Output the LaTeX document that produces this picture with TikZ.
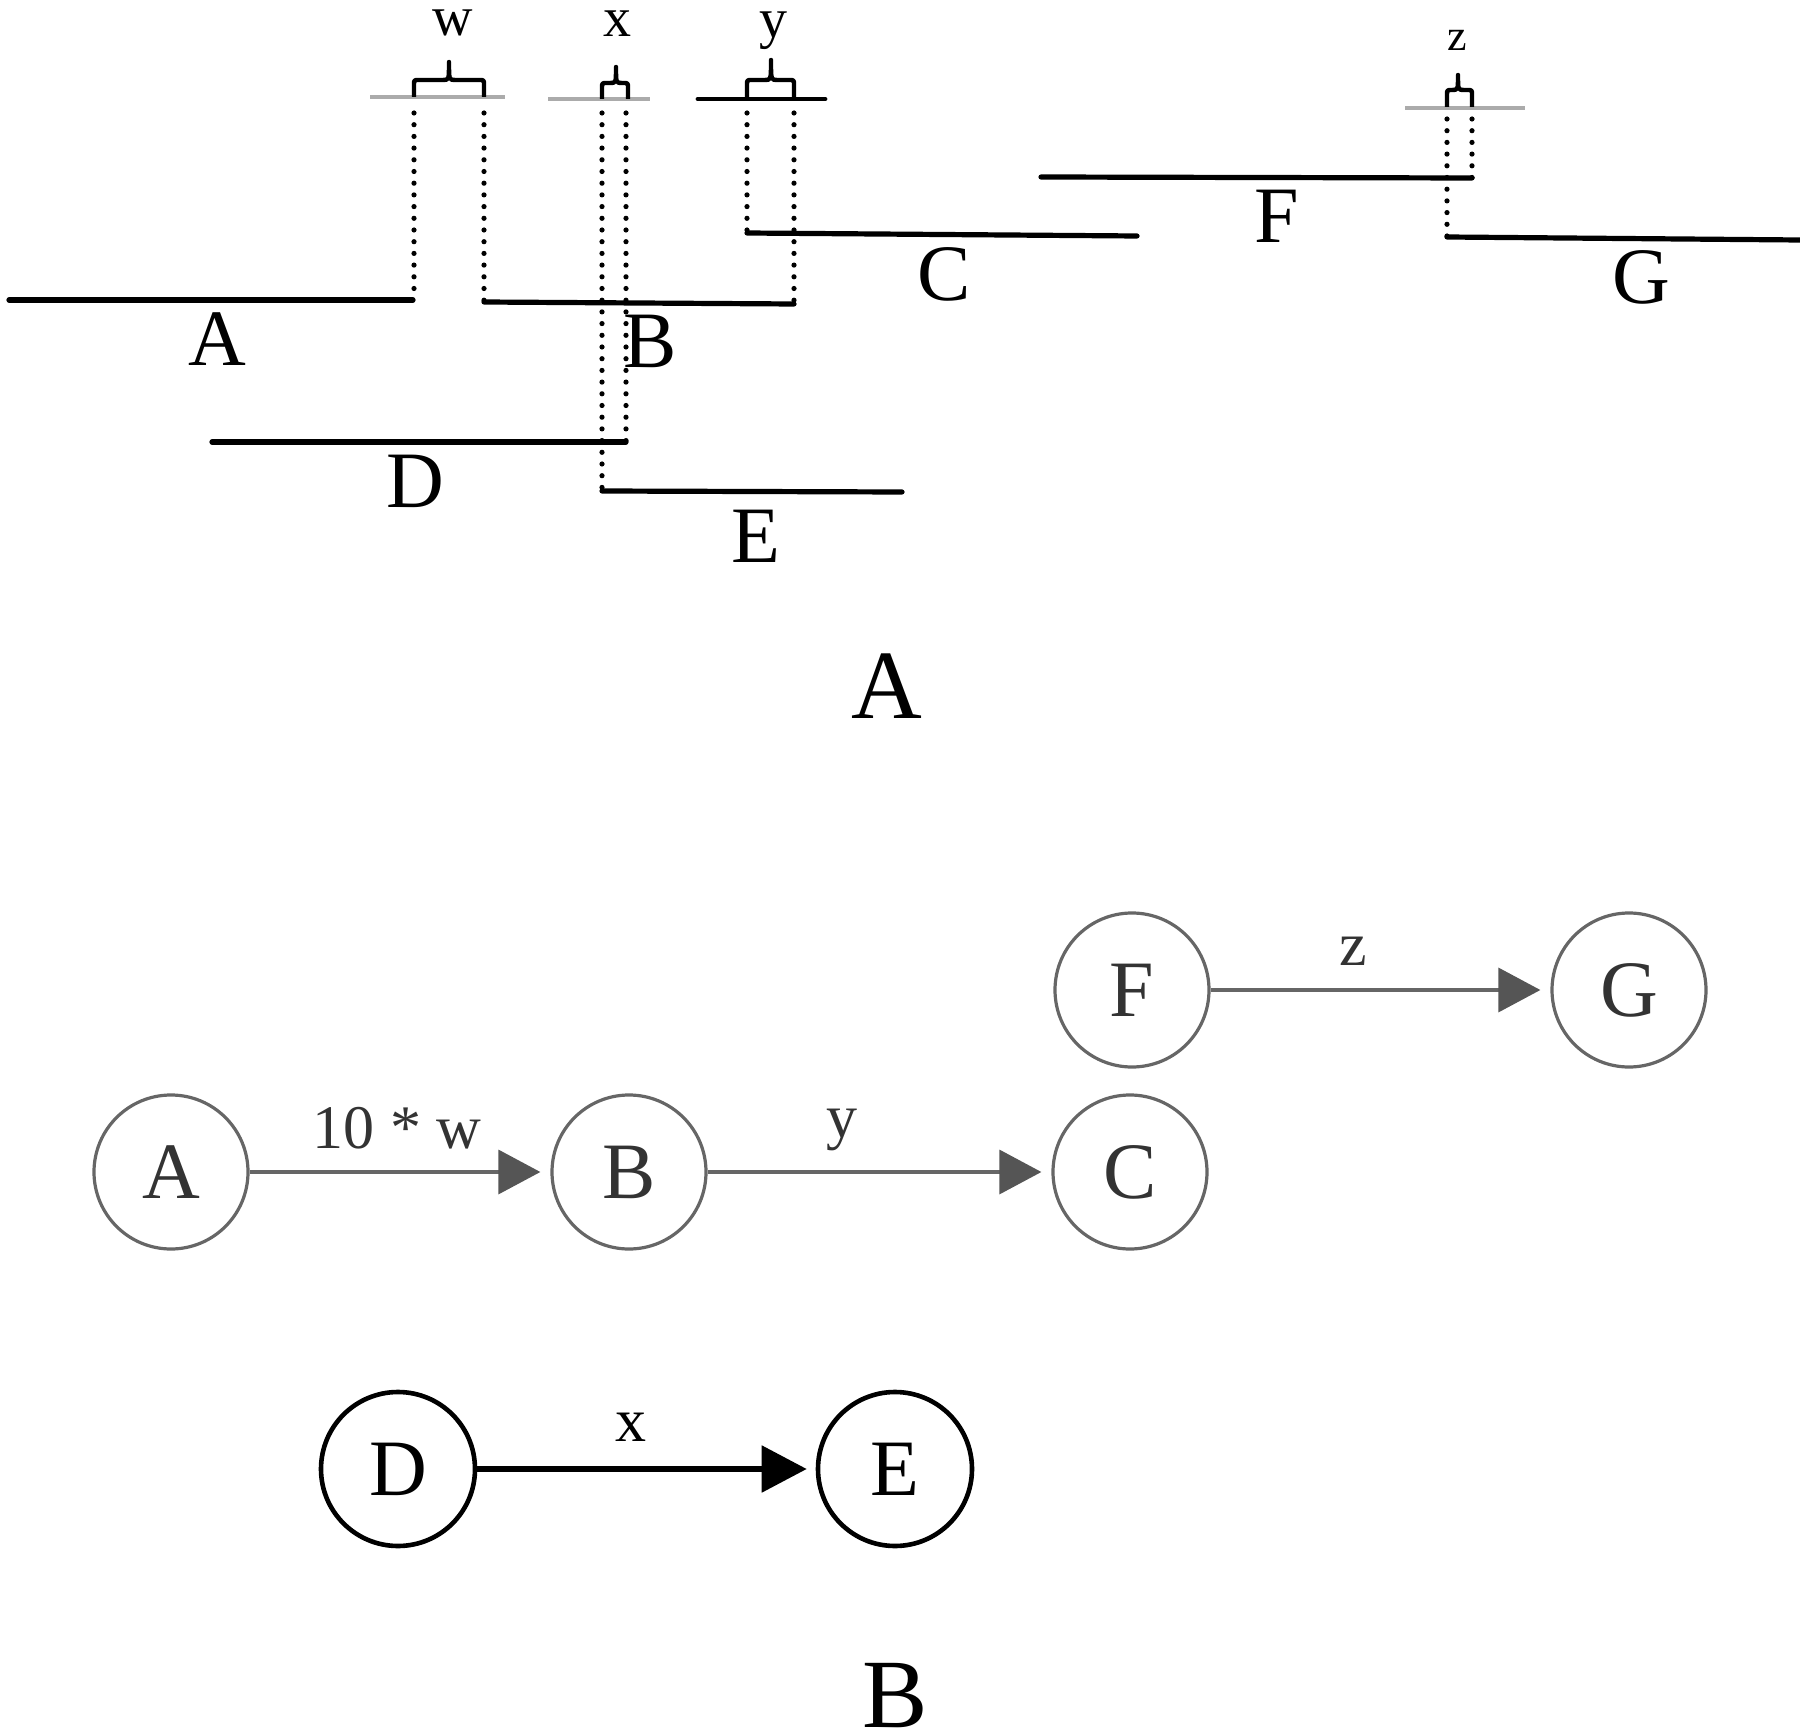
\documentclass[tikz,border=0pt]{standalone}
\usepackage{fontspec}
\setmainfont{Liberation Serif}
\usetikzlibrary{arrows.meta}
\definecolor{gline}{HTML}{666666}
\definecolor{gtext}{HTML}{333333}
\definecolor{gref}{HTML}{ABABAB}
\definecolor{ghead}{HTML}{555555}
\newcommand\mybrace[6]{\draw[brc] (#1,#4) -- (#1,#5+5) .. controls (#1,#5) .. (#1+5,#5) -- (#3-6,#5) .. controls (#3,#5) .. (#3,#6) .. controls (#3,#5) .. (#3+6,#5) -- (#2-5,#5) .. controls (#2,#5) .. (#2,#5+5) -- (#2,#4);}
\begin{document}
\begin{tikzpicture}[x=0.5pt,y=-0.5pt,
  seg/.style={line width=2.6pt, line cap=round},
  dots/.style={line width=2.6pt, line cap=round, dash pattern=on 0pt off 5.85pt},
  refg/.style={gref, line width=2pt},
  refb/.style={black, line width=2.4pt, line cap=round},
  brc/.style={line width=2.2pt, line join=round},
  biglab/.style={font=\fontsize{40}{40}\selectfont, inner sep=0pt, anchor=base},
  caplab/.style={font=\fontsize{49}{49}\selectfont, inner sep=0pt, anchor=base},
  smalllab/.style={font=\fontsize{28}{28}\selectfont, inner sep=0pt, anchor=base},
  gc/.style={circle, draw=gline, line width=1.6pt, minimum size=77pt, inner sep=0pt, text=gtext, font=\fontsize{40}{40}\selectfont},
  bc/.style={circle, draw=black, line width=2.3pt, minimum size=77pt, inner sep=0pt, font=\fontsize{40}{40}\selectfont},
  garrow/.style={gline, line width=1.7pt, -{Triangle[length=21pt,width=22pt,fill=ghead,color=ghead]}, shorten >=5pt},
  barrow/.style={black, line width=2.7pt, -{Triangle[length=22.5pt,width=23pt]}, shorten >=4.5pt},
  elab/.style={font=\fontsize{31}{31}\selectfont, text=gtext, inner sep=0pt, anchor=base}
  ]
\useasboundingbox (0,0) rectangle (1800,1733);

% ---------- part A: time lines ----------
\draw[seg] (9,300) -- (413,300);
\draw[seg] (484,302) -- (794,304);
\draw[seg] (747,233) -- (1137,236);
\draw[seg] (212,442) -- (626,442);
\draw[seg] (602,491) -- (902,492);
\draw[seg] (1041,177) -- (1472,178);
\draw[seg] (1447,237) -- (1800,240);

% reference lines at top
\draw[refg] (370,97) -- (505,97);
\draw[refg] (548,99) -- (650,99);
\draw[refb] (698,99) -- (825,99);
\draw[refg] (1405,108) -- (1525,108);

% braces
\mybrace{414}{484}{449}{97}{80}{62}
\mybrace{602}{628}{616}{99}{83}{67}
\mybrace{747}{794}{771}{99}{80}{60}
\mybrace{1447}{1472}{1458}{107}{90}{75}

% dotted drop lines
\draw[dots] (414,113) -- (414,300);
\draw[dots] (484,113) -- (484,302);
\draw[dots] (602,113) -- (602,491);
\draw[dots] (626,113) -- (626,442);
\draw[dots] (747,113) -- (747,233);
\draw[dots] (794,113) -- (794,304);
\draw[dots] (1447,119) -- (1447,237);
\draw[dots] (1472,119) -- (1472,178);

% small labels
\node[smalllab] (lw) at (453,36) {w};
\node[smalllab] (lx) at (617,37) {x};
\node[smalllab] (ly) at (773,38) {y};
\node[smalllab, font=\fontsize{22}{22}\selectfont] (lz) at (1457,51) {z};

% segment labels
\node[biglab] (tA) at (217,366) {A};
\node[biglab] (tB) at (650,368) {B};
\node[biglab] (tC) at (944,301) {C};
\node[biglab] (tD) at (415,508) {D};
\node[biglab] (tE) at (756,563) {E};
\node[biglab] (tF) at (1277,243) {F};
\node[biglab] (tG) at (1641,304) {G};

\node[caplab] (capA) at (887,718) {A};

% ---------- part B: graph ----------
\node[gc] (nA) at (171,1172) {A};
\node[gc] (nB) at (629,1172) {B};
\node[gc] (nC) at (1130,1172) {C};
\node[gc] (nF) at (1132,990) {F};
\node[gc] (nG) at (1629,990) {G};
\node[bc] (nD) at (398,1469) {D};
\node[bc] (nE) at (895,1469) {E};

\draw[garrow] (nA) -- node[elab, pos=0.49, yshift=12pt] {10 * w} (nB);
\draw[garrow] (nB) -- node[elab, pos=0.39, yshift=17.5pt] {y} (nC);
\draw[garrow] (nF) -- node[elab, pos=0.42, yshift=12.5pt] {z} (nG);
\draw[barrow] (nD) -- node[elab, text=black, pos=0.455, yshift=14pt] {x} (nE);

\node[caplab] (capB) at (895,1727) {B};
\end{tikzpicture}
\end{document}
